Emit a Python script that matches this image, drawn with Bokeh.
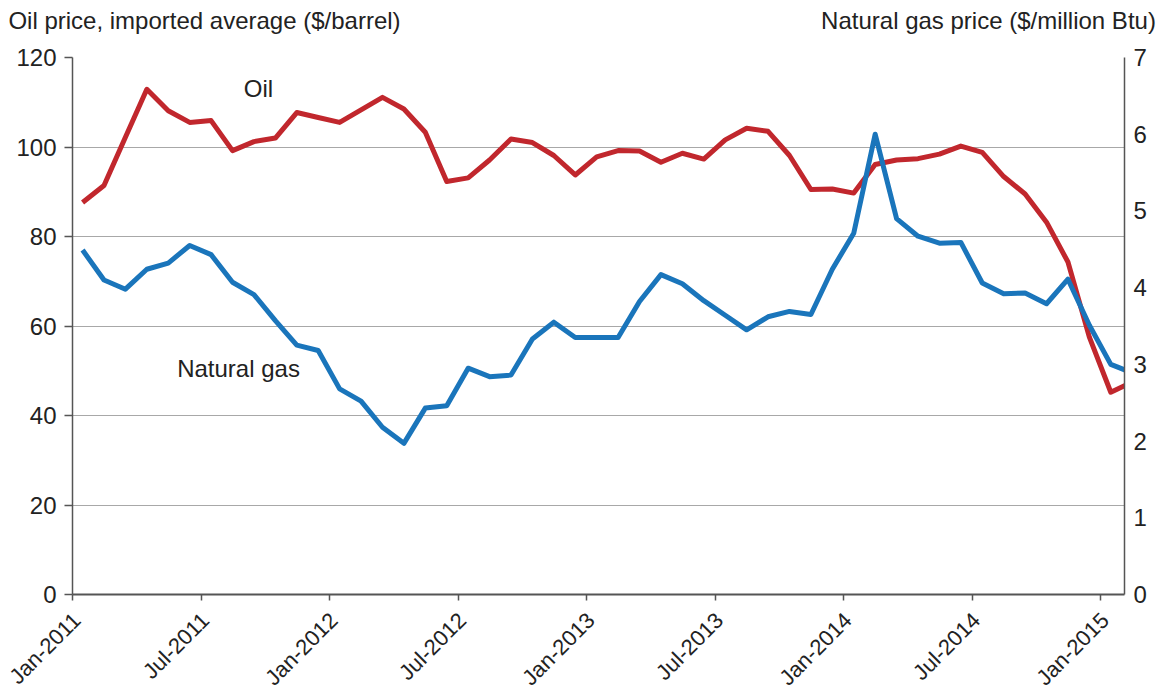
import math
from bokeh.plotting import figure
from bokeh.models import Range1d, LinearAxis, Label, FixedTicker
from bokeh.embed import file_html
from bokeh.resources import INLINE

# Monthly data, Jan-2011 .. Feb-2015
month_index = list(range(50))
oil = [87.6, 91.4, 102.2, 112.9, 108.1, 105.5, 105.9, 99.2, 101.2, 102.0,
       107.7, 106.6, 105.5, 108.3, 111.1, 108.5, 103.3, 92.3, 93.1, 97.1,
       101.8, 101.0, 98.1, 93.75, 97.8, 99.2, 99.1, 96.6, 98.6, 97.3,
       101.6, 104.2, 103.5, 98.1, 90.5, 90.6, 89.7, 96.1, 97.1, 97.4,
       98.4, 100.2, 98.8, 93.4, 89.5, 83.2, 74.3, 57.5, 45.2, 47.5]
gas = [4.49, 4.10, 3.98, 4.24, 4.32, 4.55, 4.43, 4.07, 3.91, 3.57,
       3.25, 3.18, 2.68, 2.52, 2.18, 1.97, 2.43, 2.46, 2.95, 2.84,
       2.86, 3.33, 3.55, 3.35, 3.35, 3.35, 3.82, 4.17, 4.05, 3.83,
       3.64, 3.45, 3.62, 3.69, 3.65, 4.24, 4.71, 6.00, 4.90, 4.67,
       4.58, 4.59, 4.06, 3.92, 3.93, 3.79, 4.11, 3.51, 3.00, 2.89]
tick_months = [0, 6, 12, 18, 24, 30, 36, 42, 48]
tick_labels = ["Jan-2011", "Jul-2011", "Jan-2012", "Jul-2012", "Jan-2013",
               "Jul-2013", "Jan-2014", "Jul-2014", "Jan-2015"]
oil_ticks = [0, 20, 40, 60, 80, 100, 120]
gas_ticks = [0, 1, 2, 3, 4, 5, 6, 7]

left_title = "Oil price, imported average ($/barrel)"
right_title = "Natural gas price ($/million Btu)"

MID = 0.47  # data plotted mid-month
xs = [m + MID for m in month_index]

FONT = "Liberation Sans"
TXT = "#222222"
AX = "#555555"
FS = "24px"

X0, X1 = 0, 49.11
LAB_SHIFT = 0.2      # rotated date labels sit a little right of their ticks

p = figure(frame_width=1052, frame_height=537, output_backend="svg",
           toolbar_location=None,
           x_range=Range1d(X0, X1), y_range=Range1d(0, 120),
           min_border_left=72, min_border_right=36,
           min_border_top=57, min_border_bottom=40)
p.outline_line_color = None
p.background_fill_color = "white"
p.border_fill_color = "white"

p.extra_y_ranges = {"gas": Range1d(0, 7)}
# pixel range of the frame, used only to place the two axis titles above it
p.extra_x_ranges = {"px": Range1d(72, 1124),
                    "lab": Range1d(X0 - LAB_SHIFT, X1 - LAB_SHIFT)}

p.xgrid.grid_line_color = None
p.ygrid.grid_line_color = "#a8a8a8"
p.ygrid.grid_line_width = 1
p.ygrid.ticker = FixedTicker(ticks=oil_ticks)

# bottom axis: line + tick marks only (ticks drawn as minor ticks, no labels)
xa = p.xaxis[0]
xa.ticker = FixedTicker(ticks=[], minor_ticks=tick_months)
xa.major_tick_line_color = None
xa.minor_tick_in = 0
xa.minor_tick_out = 6
xa.minor_tick_line_color = AX
xa.minor_tick_line_width = 1.5
xa.axis_line_color = AX
xa.axis_line_width = 2
xa.major_label_standoff = 0

# bottom labels (rotated), slightly shifted right
xl = LinearAxis(x_range_name="lab", ticker=FixedTicker(ticks=tick_months))
xl.major_label_overrides = {m: l for m, l in zip(tick_months, tick_labels)}
xl.major_label_orientation = math.pi / 4
xl.axis_line_color = None
xl.major_tick_line_color = None
xl.minor_tick_line_color = None
xl.major_tick_in = 0
xl.major_tick_out = 0
xl.major_label_text_font = FONT
xl.major_label_text_font_size = "22px"
xl.major_label_text_color = TXT
xl.major_label_standoff = 16
p.add_layout(xl, "below")

# left axis
ya = p.yaxis[0]
ya.ticker = FixedTicker(ticks=oil_ticks)
ya.minor_tick_line_color = None
ya.major_tick_in = 0
ya.major_tick_out = 8
ya.axis_line_color = AX
ya.axis_line_width = 1.5
ya.major_tick_line_color = AX
ya.major_tick_line_width = 1.5
ya.major_label_text_font = FONT
ya.major_label_text_font_size = FS
ya.major_label_text_color = TXT
ya.major_label_standoff = 8

# right axis
ra = LinearAxis(y_range_name="gas", ticker=FixedTicker(ticks=gas_ticks))
ra.minor_tick_line_color = None
ra.major_tick_in = 0
ra.major_tick_out = 0
ra.axis_line_color = AX
ra.axis_line_width = 1.5
ra.major_label_text_font = FONT
ra.major_label_text_font_size = FS
ra.major_label_text_color = TXT
ra.major_label_standoff = 9
p.add_layout(ra, "right")

# axis titles drawn as labels of an invisible top axis
title_pos = [204, 988]
ta = LinearAxis(x_range_name="px", ticker=FixedTicker(ticks=title_pos))
ta.major_label_overrides = {title_pos[0]: left_title, title_pos[1]: right_title}
ta.axis_line_color = None
ta.major_tick_line_color = None
ta.minor_tick_line_color = None
ta.major_tick_in = 0
ta.major_tick_out = 0
ta.major_label_text_font = FONT
ta.major_label_text_font_size = FS
ta.major_label_text_color = TXT
ta.major_label_standoff = 24
p.add_layout(ta, "above")

p.line(xs, oil, line_color="#c1272d", line_width=5, line_join="round")
p.line(xs, gas, line_color="#1a75bb", line_width=5, line_join="round",
       y_range_name="gas")

p.add_layout(Label(x=8.68, y=113, text="Oil", text_align="center",
                   text_baseline="middle", text_font=FONT,
                   text_font_size=FS, text_color=TXT))
p.add_layout(Label(x=7.75, y=50.6, text="Natural gas", text_align="center",
                   text_baseline="middle", text_font=FONT,
                   text_font_size=FS, text_color=TXT))

open("out.html", "w").write(file_html(p, INLINE))
